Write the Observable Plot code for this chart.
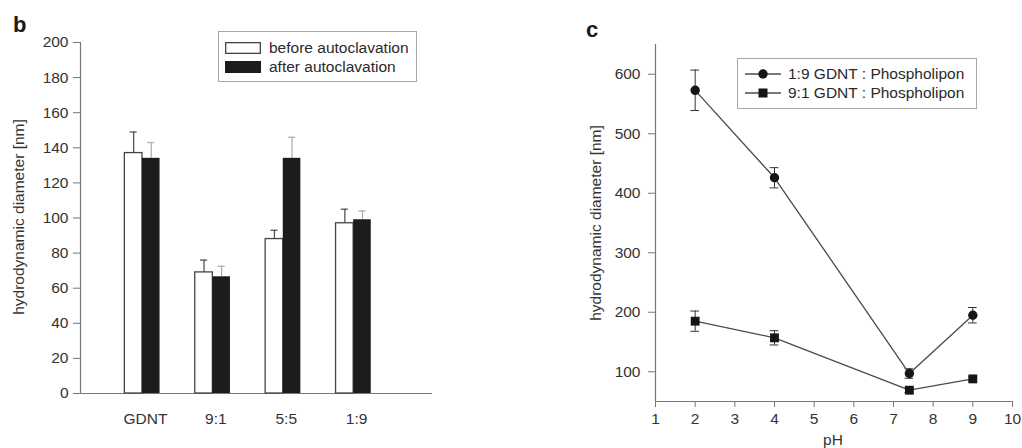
<!DOCTYPE html>
<html><head><meta charset="utf-8">
<script src="https://cdn.jsdelivr.net/npm/d3@7"></script>
<script src="https://cdn.jsdelivr.net/npm/@observablehq/plot@0.6"></script>
<style>
body{margin:0;background:#fff;}
#wrap{position:relative;width:1022px;height:448px;overflow:hidden;font-family:"Liberation Sans",Arial,sans-serif;color:#333;font-size:15.5px;}
.abs{position:absolute;white-space:nowrap;line-height:16px;}
.panel{position:absolute;top:0;}
.rot{position:absolute;white-space:nowrap;transform:translate(-50%,-50%) rotate(-90deg);line-height:16px;}
.lbl{position:absolute;font-weight:bold;font-size:22px;line-height:22px;color:#1a1a1a;}
.legend{position:absolute;box-sizing:border-box;border:1px solid #a8a8a8;background:#fff;}
.legend .row{position:absolute;left:0;height:16px;}
.legend svg{position:absolute;}
.legend span{position:absolute;white-space:nowrap;line-height:16px;color:#2a2a2a;}
[aria-label$="axis tick"]{stroke:#777;}
[aria-label="y-axis"] line,[aria-label="x-axis"] line{stroke:#777;}
</style></head><body><div id="wrap"></div>
<script>
// ---- Panel b data ----
const categories = ["GDNT", "9:1", "5:5", "1:9"];
const beforeVals = [137, 69, 88, 97];
const beforeErr  = [12, 7, 5, 8];
const afterVals  = [134, 66.5, 134, 99];
const afterErr   = [9, 6, 12, 5];
const yTicksB = [0, 20, 40, 60, 80, 100, 120, 140, 160, 180, 200];
const seriesB = ["before autoclavation", "after autoclavation"];

// ---- Panel c data ----
const pH = [2, 4, 7.4, 9];
const size19 = [573, 426, 97, 195];
const err19  = [34, 17, 8, 13];
const size91 = [185, 157, 69, 88];
const err91  = [17, 12, 4, 3];
const xTicksC = [1, 2, 3, 4, 5, 6, 7, 8, 9, 10];
const yTicksC = [100, 200, 300, 400, 500, 600];
const seriesC = ["1:9 GDNT : Phospholipon", "9:1 GDNT : Phospholipon"];

const wrap = document.getElementById("wrap");
const font = "Liberation Sans, Arial, sans-serif";

// ---- Panel b ----
const rowsB = categories.map((c, i) => ({
  cat: c, pos: i + 1,
  before: beforeVals[i], bErr: beforeErr[i],
  after: afterVals[i], aErr: afterErr[i]
}));
const bw = 0.25, cap = 0.05;
const left = Plot.plot({
  width: 520, height: 448,
  marginLeft: 80, marginRight: 88, marginTop: 42, marginBottom: 55,
  style: {fontSize: "15.5px", fontFamily: font, color: "#333", background: "transparent", overflow: "visible"},
  x: {domain: [0.12, 5.12], axis: null},
  y: {domain: [0, 200], ticks: yTicksB, tickSize: 7, tickPadding: 5, label: null},
  marks: [
    Plot.ruleX([0.12], {stroke: "#777", strokeWidth: 1.2}),
    Plot.ruleY([0], {stroke: "#777", strokeWidth: 1.2}),
    // error whiskers (drawn under bars)
    Plot.ruleX(rowsB, {x: d => d.pos - bw / 2, y1: "before", y2: d => d.before + d.bErr, stroke: "#555", strokeWidth: 1.3}),
    Plot.ruleY(rowsB, {y: d => d.before + d.bErr, x1: d => d.pos - bw / 2 - cap, x2: d => d.pos - bw / 2 + cap, stroke: "#555", strokeWidth: 1.3}),
    Plot.ruleX(rowsB, {x: d => d.pos + bw / 2, y1: "after", y2: d => d.after + d.aErr, stroke: "#b0b0b0", strokeWidth: 1.3}),
    Plot.ruleY(rowsB, {y: d => d.after + d.aErr, x1: d => d.pos + bw / 2 - cap, x2: d => d.pos + bw / 2 + cap, stroke: "#b0b0b0", strokeWidth: 1.3}),
    Plot.rect(rowsB, {x1: d => d.pos - bw, x2: d => d.pos, y1: () => 0, y2: "before", fill: "#fff", stroke: "#444", strokeWidth: 1.3}),
    Plot.rect(rowsB, {x1: d => d.pos, x2: d => d.pos + bw, y1: () => 0, y2: "after", fill: "#1c1c1e"}),
    Plot.text(rowsB, {x: "pos", text: "cat", frameAnchor: "bottom", dy: 30, dx: 3, fill: "#333"})
  ]
});
left.classList.add("panel");
left.style.left = "0px";
wrap.appendChild(left);

// ---- Panel c ----
const rows19 = pH.map((p, i) => ({pH: p, v: size19[i], e: err19[i]}));
const rows91 = pH.map((p, i) => ({pH: p, v: size91[i], e: err91[i]}));
const capC = 0.11;
function errMarks(rows) {
  return [
    Plot.ruleX(rows, {x: "pH", y1: d => d.v - d.e, y2: d => d.v + d.e, stroke: "#333", strokeWidth: 1}),
    Plot.ruleY(rows, {y: d => d.v + d.e, x1: d => d.pH - capC, x2: d => d.pH + capC, stroke: "#333", strokeWidth: 1}),
    Plot.ruleY(rows, {y: d => d.v - d.e, x1: d => d.pH - capC, x2: d => d.pH + capC, stroke: "#333", strokeWidth: 1})
  ];
}
const right = Plot.plot({
  width: 502, height: 448,
  marginLeft: 135, marginRight: 10, marginTop: 44, marginBottom: 47,
  style: {fontSize: "15.5px", fontFamily: font, color: "#333", background: "transparent", overflow: "visible"},
  x: {domain: [1, 10], ticks: xTicksC, tickSize: 6, tickPadding: 5, label: null},
  y: {domain: [50, 650], ticks: yTicksC, tickSize: 7, tickPadding: 8, label: null},
  marks: [
    Plot.ruleX([1], {stroke: "#777", strokeWidth: 1.2}),
    Plot.ruleY([50], {stroke: "#777", strokeWidth: 1.2}),
    ...errMarks(rows19),
    ...errMarks(rows91),
    Plot.line(rows19, {x: "pH", y: "v", stroke: "#4a4a4a", strokeWidth: 1.3}),
    Plot.line(rows91, {x: "pH", y: "v", stroke: "#4a4a4a", strokeWidth: 1.3}),
    Plot.dot(rows19, {x: "pH", y: "v", r: 4.7, fill: "#151515", symbol: "circle"}),
    Plot.dot(rows91, {x: "pH", y: "v", r: 5, fill: "#151515", symbol: "square"})
  ]
});
right.classList.add("panel");
right.style.left = "520px";
wrap.appendChild(right);

// ---- HTML text: panel letters, axis titles ----
function addDiv(cls, text, css) {
  const d = document.createElement("div");
  d.className = cls; d.textContent = text;
  Object.assign(d.style, css);
  wrap.appendChild(d);
  return d;
}
addDiv("lbl", "b", {left: "13px", top: "14px"});
addDiv("lbl", "c", {left: "586px", top: "19px"});
addDiv("rot", "hydrodynamic diameter [nm]", {left: "19px", top: "217px"});
addDiv("rot", "hydrodynamic diameter [nm]", {left: "596px", top: "223px"});
const ph = addDiv("abs", "pH", {left: "833px", top: "432px"});
ph.style.transform = "translateX(-50%)";

// ---- Legend b ----
const legB = document.createElement("div");
legB.className = "legend";
Object.assign(legB.style, {left: "218px", top: "31px", width: "199px", height: "51px"});
seriesB.forEach((name, i) => {
  const cy = i === 0 ? 16 : 35;
  const sw = document.createElementNS("http://www.w3.org/2000/svg", "svg");
  sw.setAttribute("width", "36"); sw.setAttribute("height", "12");
  Object.assign(sw.style, {left: "6px", top: (cy - 6) + "px"});
  sw.innerHTML = i === 0
    ? '<rect x="0.65" y="0.65" width="34.7" height="10.7" fill="#fff" stroke="#444" stroke-width="1.3"/>'
    : '<rect x="0" y="0" width="36" height="12" fill="#1c1c1e"/>';
  legB.appendChild(sw);
  const s = document.createElement("span");
  s.textContent = name;
  Object.assign(s.style, {left: "50px", top: (cy - 8) + "px"});
  legB.appendChild(s);
});
wrap.appendChild(legB);

// ---- Legend c ----
const legC = document.createElement("div");
legC.className = "legend";
Object.assign(legC.style, {left: "737px", top: "58px", width: "240px", height: "51px"});
seriesC.forEach((name, i) => {
  const cy = i === 0 ? 15 : 34;
  const sw = document.createElementNS("http://www.w3.org/2000/svg", "svg");
  sw.setAttribute("width", "40"); sw.setAttribute("height", "12");
  Object.assign(sw.style, {left: "6px", top: (cy - 6) + "px"});
  const marker = i === 0
    ? '<circle cx="19" cy="6" r="4.7" fill="#151515"/>'
    : '<rect x="14.5" y="1.5" width="9" height="9" fill="#151515"/>';
  sw.innerHTML = '<line x1="1" x2="37" y1="6" y2="6" stroke="#4a4a4a" stroke-width="1.3"/>' + marker;
  legC.appendChild(sw);
  const s = document.createElement("span");
  s.textContent = name;
  Object.assign(s.style, {left: "50px", top: (cy - 8) + "px"});
  legC.appendChild(s);
});
wrap.appendChild(legC);
</script></body></html>
